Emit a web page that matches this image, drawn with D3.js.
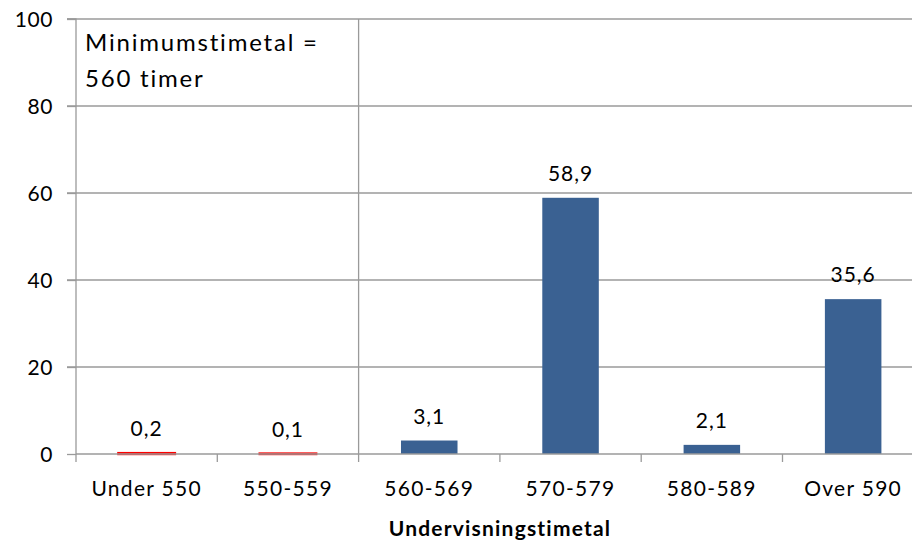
<!DOCTYPE html>
<html><head><meta charset="utf-8">
<script src="https://cdn.jsdelivr.net/npm/d3@7"></script>
<style>body{margin:0;background:#fff}svg{display:block}text{font-family:Lato,"Open Sans",sans-serif;fill:#000}</style>
</head><body>
<svg id="c" width="912" height="545"></svg>
<script>
const categories = ["Under 550","550-559","560-569","570-579","580-589","Over 590"];
const values = [0.2, 0.1, 3.1, 58.9, 2.1, 35.6];
const valueLabels = ["0,2","0,1","3,1","58,9","2,1","35,6"];
const belowMinimum = [true, true, false, false, false, false];
const yTicks = [0,20,40,60,80,100];
const xTitle = "Undervisningstimetal";
const noteLines = ["Minimumstimetal =", "560 timer"];

(function(){
const svg = d3.select("#c");
const pLeft = 76, pTop = 19, pBottom = 454, bandW = 141.3;
const x = d3.scaleBand().domain(categories).range([pLeft, pLeft + bandW*categories.length]).paddingInner(0.6).paddingOuter(0.3);
const y = d3.scaleLinear().domain([0,100]).range([pBottom, pTop]);
const grid = "#9a9a9a";

svg.append("g").selectAll("line").data(yTicks.filter(d=>d>0)).join("line")
  .attr("x1", pLeft-9).attr("x2", 912).attr("y1", d=>y(d)).attr("y2", d=>y(d))
  .attr("stroke", grid).attr("stroke-width", 1.3);

const ya = svg.append("g").attr("transform",`translate(${pLeft},0)`)
  .call(d3.axisLeft(y).tickValues(yTicks).tickSize(9).tickPadding(14).tickFormat(d3.format("d")));
ya.select(".domain").attr("stroke", grid).attr("stroke-width",1.3).attr("d",`M-9,${pTop}H0V${pBottom}`);
ya.selectAll(".tick line").attr("stroke", grid).attr("stroke-width",1.3);
ya.selectAll("text").style("font-size","21px").style("font-family","Lato").style("letter-spacing","0.6px")
  .attr("dy","0.36em").attr("fill","#000");

const boundary = pLeft + bandW*2;
svg.append("line").attr("x1", boundary).attr("x2", boundary).attr("y1", pTop).attr("y2", pBottom)
  .attr("stroke", grid).attr("stroke-width", 1.3);

svg.append("g").selectAll("rect").data(values).join("rect")
  .attr("x", (d,i)=>x(categories[i])).attr("width", x.bandwidth())
  .attr("y", d=>y(d)).attr("height", d=>pBottom - y(d))
  .attr("fill", (d,i)=>belowMinimum[i] ? "#ff0000" : "#3a6192")
  .attr("stroke", (d,i)=>belowMinimum[i] ? "#ff0000" : "none")
  .attr("stroke-width", 2.4);

const xa = svg.append("g").attr("transform",`translate(0,${pBottom})`);
xa.append("line").attr("x1", pLeft).attr("x2", 912).attr("y1",0).attr("y2",0).attr("stroke",grid).attr("stroke-width",1.3);
xa.selectAll("line.t").data(d3.range(categories.length+1)).join("line").attr("class","t")
  .attr("x1", i=>pLeft+bandW*i).attr("x2", i=>pLeft+bandW*i).attr("y1",0).attr("y2",8)
  .attr("stroke",grid).attr("stroke-width",1.3);
xa.selectAll("text").data(categories).join("text")
  .attr("x", d=>x(d)+x.bandwidth()/2).attr("y", 42).attr("text-anchor","middle")
  .style("font-size","21px").style("letter-spacing","1.3px").text(d=>d);

svg.append("g").selectAll("text").data(values).join("text")
  .attr("x", (d,i)=>x(categories[i])+x.bandwidth()/2).attr("y", d=>y(d)-17)
  .attr("text-anchor","middle").style("font-size","21px").style("letter-spacing","1px")
  .text((d,i)=>valueLabels[i]);

svg.append("text").attr("x", 500).attr("y", 536).attr("text-anchor","middle")
  .style("font-size","21px").style("font-weight","bold").style("letter-spacing","1.2px").text(xTitle);

svg.append("g").selectAll("text").data(noteLines).join("text")
  .attr("x", 85).attr("y", (d,i)=>51 + i*36).style("font-size","24px").style("letter-spacing","1.8px").text(d=>d);
})();
</script>
</body></html>
